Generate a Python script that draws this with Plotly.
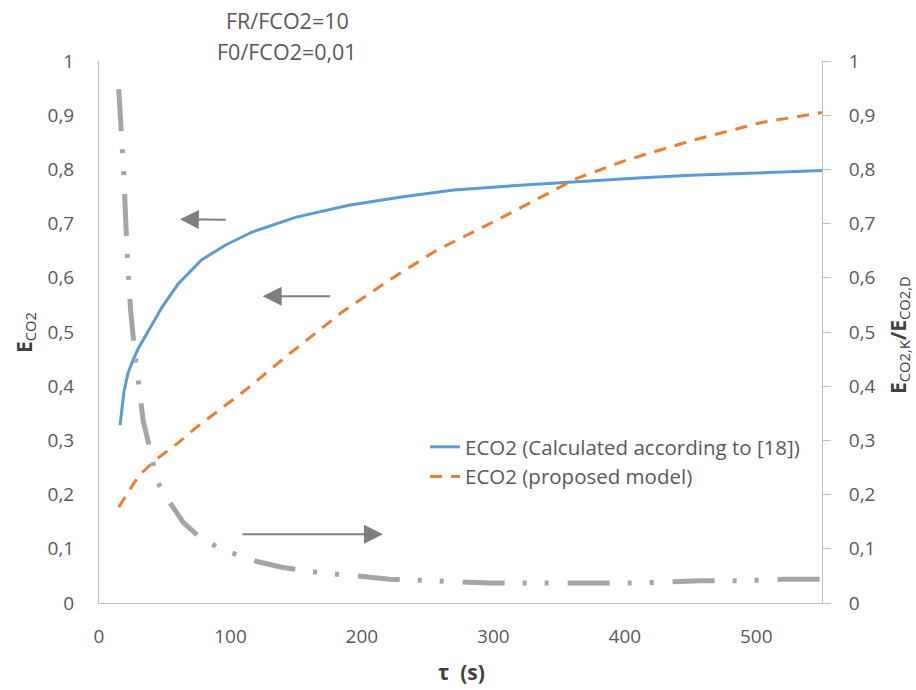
import plotly.graph_objects as go

# ---------------- data ----------------
tau_calc = [16, 19, 22, 26, 30, 39, 48, 60, 78, 96, 116, 150, 190, 230, 270, 310, 360, 410, 450,
            500, 550]
eco2_calc = [0.328, 0.39, 0.424, 0.449, 0.47, 0.509, 0.546, 0.588, 0.633, 0.66, 0.684, 0.712,
             0.734, 0.749, 0.762, 0.769, 0.777, 0.784, 0.789, 0.794, 0.798]

tau_model = [15, 30, 43, 60, 73, 90, 111, 144, 185, 221, 257, 300, 325, 363, 401, 452, 503, 550]
eco2_model = [0.177, 0.234, 0.264, 0.295, 0.322, 0.354, 0.392, 0.458, 0.537, 0.596, 0.651, 0.703,
              0.735, 0.783, 0.817, 0.854, 0.886, 0.905]

tau_ratio = [15, 17, 19, 21, 24, 27, 29, 33.5, 41, 45, 54, 64, 75, 90, 105, 121, 139, 170, 187,
             205, 221, 254, 297, 329, 377, 410, 457, 489, 522, 550]
ratio = [0.948, 0.869, 0.784, 0.666, 0.541, 0.467, 0.421, 0.338, 0.260, 0.221, 0.185, 0.149, 0.125,
         0.103, 0.089, 0.076, 0.066, 0.055, 0.052, 0.048, 0.044, 0.041, 0.037, 0.037, 0.037, 0.037,
         0.041, 0.041, 0.044, 0.044]

name_calc = "ECO2 (Calculated according to [18])"
name_model = "ECO2 (proposed model)"
note_lines = ["FR/FCO2=10", "F0/FCO2=0,01"]

# arrows: (tail_x, tail_y, head_x, head_y) in data units
arrows = [
    (97.5, 0.707, 61.5, 0.708),
    (177.0, 0.566, 124.5, 0.566),
    (108.0, 0.127, 216.0, 0.127),
]

# ---------------- layout geometry ----------------
W, H = 916, 690
L, R, T, B = 99, 94, 61, 87
PW, PH = W - L - R, H - T - B


def px_x(px):
    return (px - L) / PW


def px_y(py):
    return (H - B - py) / PH


FONT = "Open Sans, Noto Sans, sans-serif"
TICK_COLOR = "#595959"
AXIS_LINE = "#bfbfbf"

fig = go.Figure()

fig.add_trace(go.Scatter(
    x=tau_calc, y=eco2_calc, mode="lines", name=name_calc,
    line=dict(color="#5B9BD5", width=3), yaxis="y"))
fig.add_trace(go.Scatter(
    x=tau_model, y=eco2_model, mode="lines", name=name_model,
    line=dict(color="#ED7D31", width=3, dash="12px,9px"), yaxis="y"))
fig.add_trace(go.Scatter(
    x=tau_ratio, y=ratio, mode="lines", name="ECO2,K/ECO2,D", showlegend=False,
    line=dict(color="#A5A5A5", width=5, dash="42px,18px,4px,18px,4px,19px"), yaxis="y2"))

annotations = []
for i, txt in enumerate(note_lines):
    annotations.append(dict(
        text=txt, xref="paper", yref="paper", x=px_x(287), y=px_y(21 + 31 * i),
        xanchor="center", yanchor="middle", showarrow=False,
        font=dict(family=FONT, size=21.5, color=TICK_COLOR)))

for tx, ty, hx, hy in arrows:
    annotations.append(dict(
        x=hx, y=hy, ax=tx, ay=ty, xref="x", yref="y", axref="x", ayref="y",
        text="", showarrow=True, arrowhead=2, arrowsize=1.9, arrowwidth=2,
        arrowcolor="#7f7f7f", standoff=0))

# axis titles
annotations.append(dict(
    text="<b>E</b><sub>CO2</sub>", xref="paper", yref="paper", x=px_x(25), y=px_y(333),
    xanchor="center", yanchor="middle", textangle=-90, showarrow=False,
    font=dict(family=FONT, size=21, color="#404040")))
annotations.append(dict(
    text="<b>E</b><sub>CO2,K</sub><b>/E</b><sub>CO2,D</sub>", xref="paper", yref="paper",
    x=px_x(899), y=px_y(335), xanchor="center", yanchor="middle", textangle=-90,
    showarrow=False, font=dict(family=FONT, size=21, color="#404040")))
annotations.append(dict(
    text="<b>τ\u00a0 (s)</b>", xref="paper", yref="paper", x=px_x(461), y=px_y(672),
    xanchor="center", yanchor="middle", showarrow=False,
    font=dict(family=FONT, size=21, color="#404040")))

fig.update_layout(
    width=W, height=H,
    margin=dict(l=L, r=R, t=T, b=B, pad=0),
    paper_bgcolor="white", plot_bgcolor="white",
    separators=", ",
    font=dict(family=FONT, size=19, color=TICK_COLOR),
    xaxis=dict(range=[0, 550], tick0=0, dtick=100, showline=True, linecolor=AXIS_LINE,
               linewidth=1, ticks="", showgrid=False, zeroline=False,
               tickfont=dict(family=FONT, size=19, color=TICK_COLOR), ticklabelstandoff=16),
    yaxis=dict(range=[0, 1], tick0=0, dtick=0.1, showline=True, linecolor=AXIS_LINE,
               linewidth=1, ticks="", showgrid=False, zeroline=False,
               tickfont=dict(family=FONT, size=19, color=TICK_COLOR), ticklabelstandoff=20),
    yaxis2=dict(range=[0, 1], tick0=0, dtick=0.1, overlaying="y", side="right",
                showline=True, linecolor=AXIS_LINE, linewidth=1, ticks="outside",
                ticklen=8, tickcolor=AXIS_LINE, showgrid=False, zeroline=False,
                tickfont=dict(family=FONT, size=19, color=TICK_COLOR), ticklabelstandoff=14),
    legend=dict(x=px_x(425), y=px_y(427), xanchor="left", yanchor="top",
                bgcolor="rgba(0,0,0,0)", font=dict(family=FONT, size=20.5, color=TICK_COLOR),
                tracegroupgap=0),
    annotations=annotations,
    showlegend=True,
)

fig.write_html("out.html", config={"displayModeBar": False},
               post_script="document.body.style.margin='0';")
